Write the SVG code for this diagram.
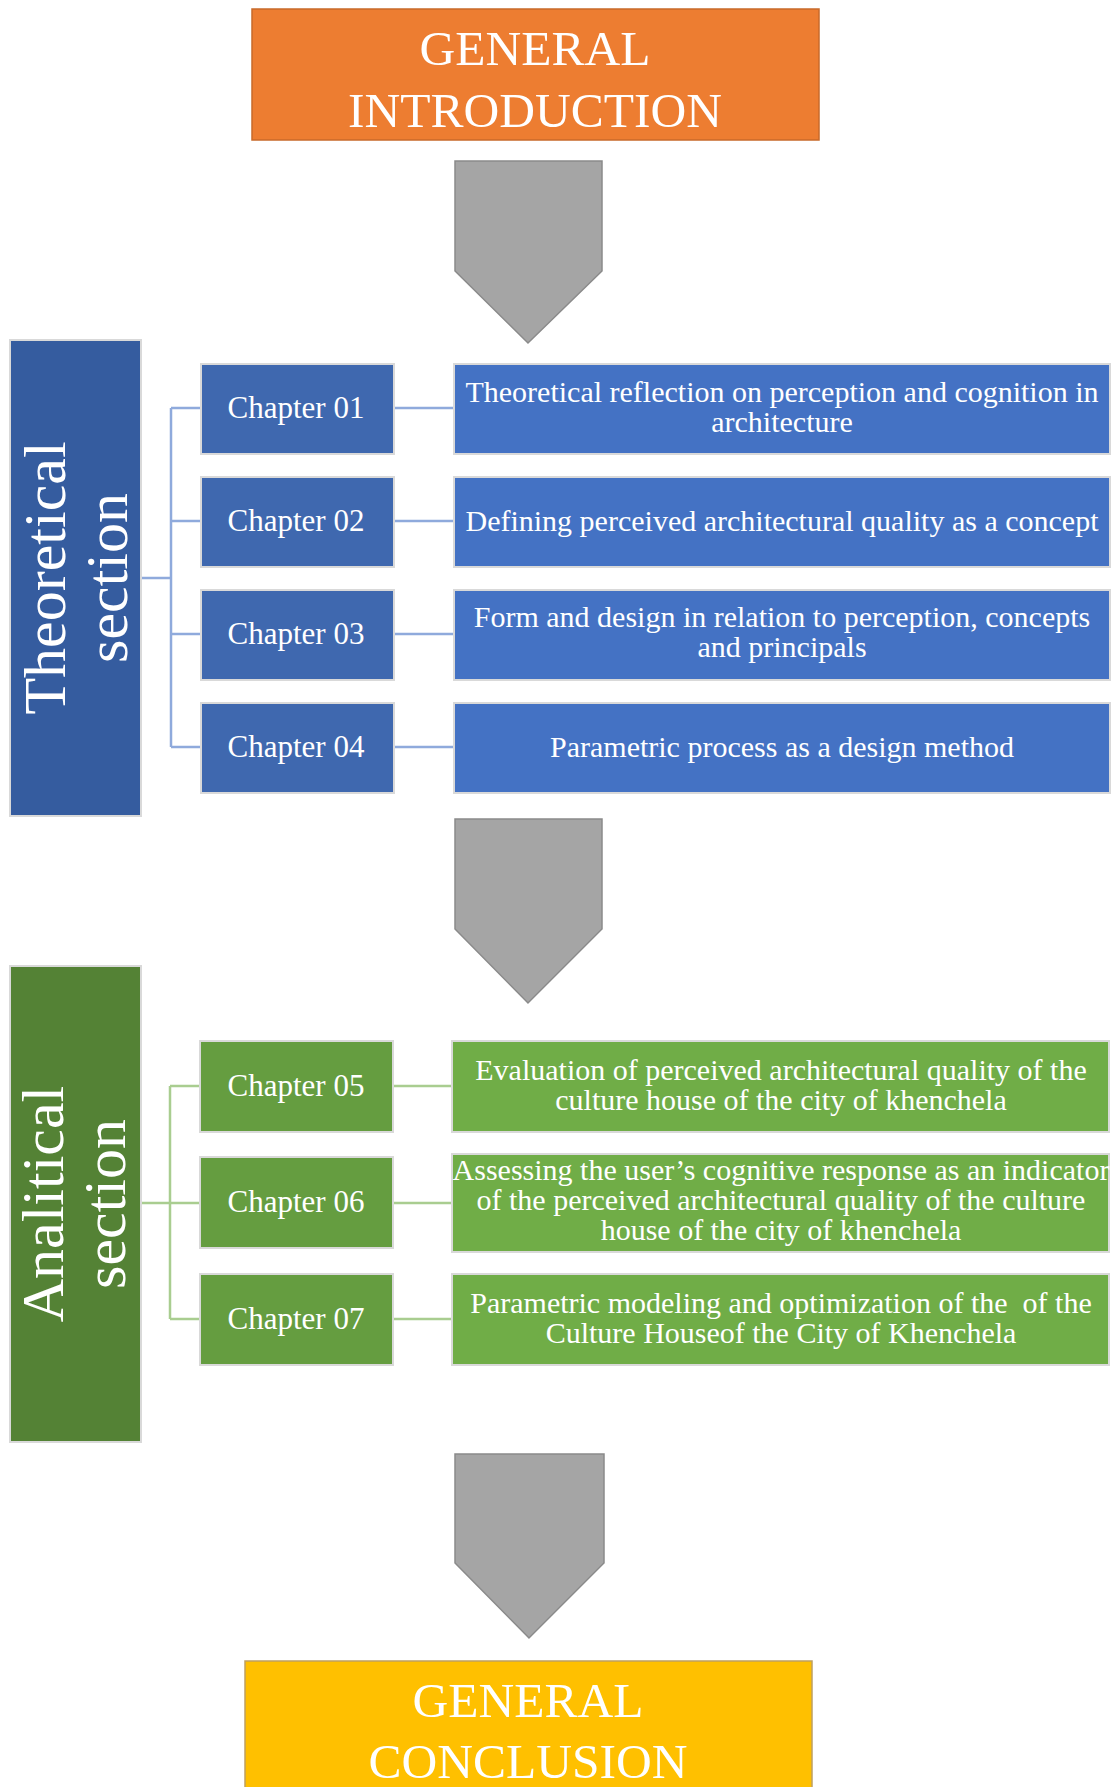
<svg xmlns="http://www.w3.org/2000/svg" width="1115" height="1787" viewBox="0 0 1115 1787">
<style>
text{font-family:"Liberation Serif","Times New Roman",serif;fill:#ffffff;text-anchor:middle}
.big{font-size:49.5px}
.sec{font-size:60px}
.ch{font-size:31px}
.ds{font-size:30px}
.pre{white-space:pre}
.box{stroke:#D9D9D9;stroke-width:2}
.arrow{fill:#A5A5A5;stroke:#8A8A8A;stroke-width:1.5}
.cb{fill:none;stroke:#8FAADC;stroke-width:2.5}
.cg{fill:none;stroke:#A9CD90;stroke-width:2.5}
</style>
<rect width="1115" height="1787" fill="#ffffff"/>
<g id="connectors">
  <path class="cb" d="M141,578 H171 M171,408 V747 M171,408 H201 M171,521 H201 M171,634 H201 M171,747 H201"/>
  <path class="cb" d="M394,408 H454 M394,521 H454 M394,634 H454 M394,747 H454"/>
  <path class="cg" d="M141,1203 H170 M170,1086 V1319 M170,1086 H200 M170,1203 H200 M170,1319 H200"/>
  <path class="cg" d="M393,1086 H452 M393,1203 H452 M393,1319 H452"/>
</g>
<g id="intro">
  <rect x="252" y="9" width="567" height="131" fill="#ED7D31" stroke="#C86A2A" stroke-width="1.5"/>
  <text class="big" x="535" y="65">GENERAL</text>
  <text class="big" x="535" y="127">INTRODUCTION</text>
</g>
<g id="arrow1"><path class="arrow" d="M455,161 H602 V271 L528,343 L455,271 Z"/></g>
<g id="theoretical">
  <rect class="box" x="10" y="340" width="131" height="476" fill="#355C9F"/>
  <text class="sec" transform="translate(0,578) rotate(-90)" x="0" y="65">Theoretical</text>
  <text class="sec" transform="translate(0,578) rotate(-90)" x="0" y="127">section</text>
</g>
<g id="ch01"><rect class="box" x="201" y="364" width="193" height="90" fill="#3F68AF"/><text class="ch" x="296" y="418">Chapter 01</text></g>
<g id="ch02"><rect class="box" x="201" y="477" width="193" height="90" fill="#3F68AF"/><text class="ch" x="296" y="531">Chapter 02</text></g>
<g id="ch03"><rect class="box" x="201" y="590" width="193" height="90" fill="#3F68AF"/><text class="ch" x="296" y="644">Chapter 03</text></g>
<g id="ch04"><rect class="box" x="201" y="703" width="193" height="90" fill="#3F68AF"/><text class="ch" x="296" y="757">Chapter 04</text></g>
<g id="d01"><rect class="box" x="454" y="364" width="656" height="90" fill="#4472C4"/>
  <text class="ds" x="782" y="402">Theoretical reflection on perception and cognition in</text>
  <text class="ds" x="782" y="432">architecture</text></g>
<g id="d02"><rect class="box" x="454" y="477" width="656" height="90" fill="#4472C4"/>
  <text class="ds" x="782" y="531">Defining perceived architectural quality as a concept</text></g>
<g id="d03"><rect class="box" x="454" y="590" width="656" height="90" fill="#4472C4"/>
  <text class="ds" x="782" y="627">Form and design in relation to perception, concepts</text>
  <text class="ds" x="782" y="657">and principals</text></g>
<g id="d04"><rect class="box" x="454" y="703" width="656" height="90" fill="#4472C4"/>
  <text class="ds" x="782" y="757">Parametric process as a design method</text></g>
<g id="arrow2"><path class="arrow" d="M455,819 H602 V929 L528,1003 L455,929 Z"/></g>
<g id="analitical">
  <rect class="box" x="10" y="966" width="131" height="476" fill="#548235"/>
  <text class="sec" transform="translate(0,1204) rotate(-90)" x="0" y="63">Analitical</text>
  <text class="sec" transform="translate(0,1204) rotate(-90)" x="0" y="125">section</text>
</g>
<g id="ch05"><rect class="box" x="200" y="1041" width="193" height="91" fill="#659D40"/><text class="ch" x="296" y="1096">Chapter 05</text></g>
<g id="ch06"><rect class="box" x="200" y="1157" width="193" height="91" fill="#659D40"/><text class="ch" x="296" y="1212">Chapter 06</text></g>
<g id="ch07"><rect class="box" x="200" y="1274" width="193" height="91" fill="#659D40"/><text class="ch" x="296" y="1329">Chapter 07</text></g>
<g id="d05"><rect class="box" x="452" y="1041" width="657" height="91" fill="#70AD47"/>
  <text class="ds" x="781" y="1080">Evaluation of perceived architectural quality of the</text>
  <text class="ds" x="781" y="1110">culture house of the city of khenchela</text></g>
<g id="d06"><rect class="box" x="452" y="1154" width="657" height="98" fill="#70AD47"/>
  <text class="ds" x="781" y="1180">Assessing the user’s cognitive response as an indicator</text>
  <text class="ds" x="781" y="1210">of the perceived architectural quality of the culture</text>
  <text class="ds" x="781" y="1240">house of the city of khenchela</text></g>
<g id="d07"><rect class="box" x="452" y="1274" width="657" height="91" fill="#70AD47"/>
  <text class="ds pre" x="781" y="1313">Parametric modeling and optimization of the  of the</text>
  <text class="ds" x="781" y="1343">Culture Houseof the City of Khenchela</text></g>
<g id="arrow3"><path class="arrow" d="M455,1454 H604 V1563 L529,1638 L455,1563 Z"/></g>
<g id="conclusion">
  <rect x="245" y="1661" width="567" height="140" fill="#FFC000" stroke="#BFA060" stroke-width="1.5"/>
  <text class="big" x="528" y="1717">GENERAL</text>
  <text class="big" x="528" y="1778">CONCLUSION</text>
</g>
</svg>
